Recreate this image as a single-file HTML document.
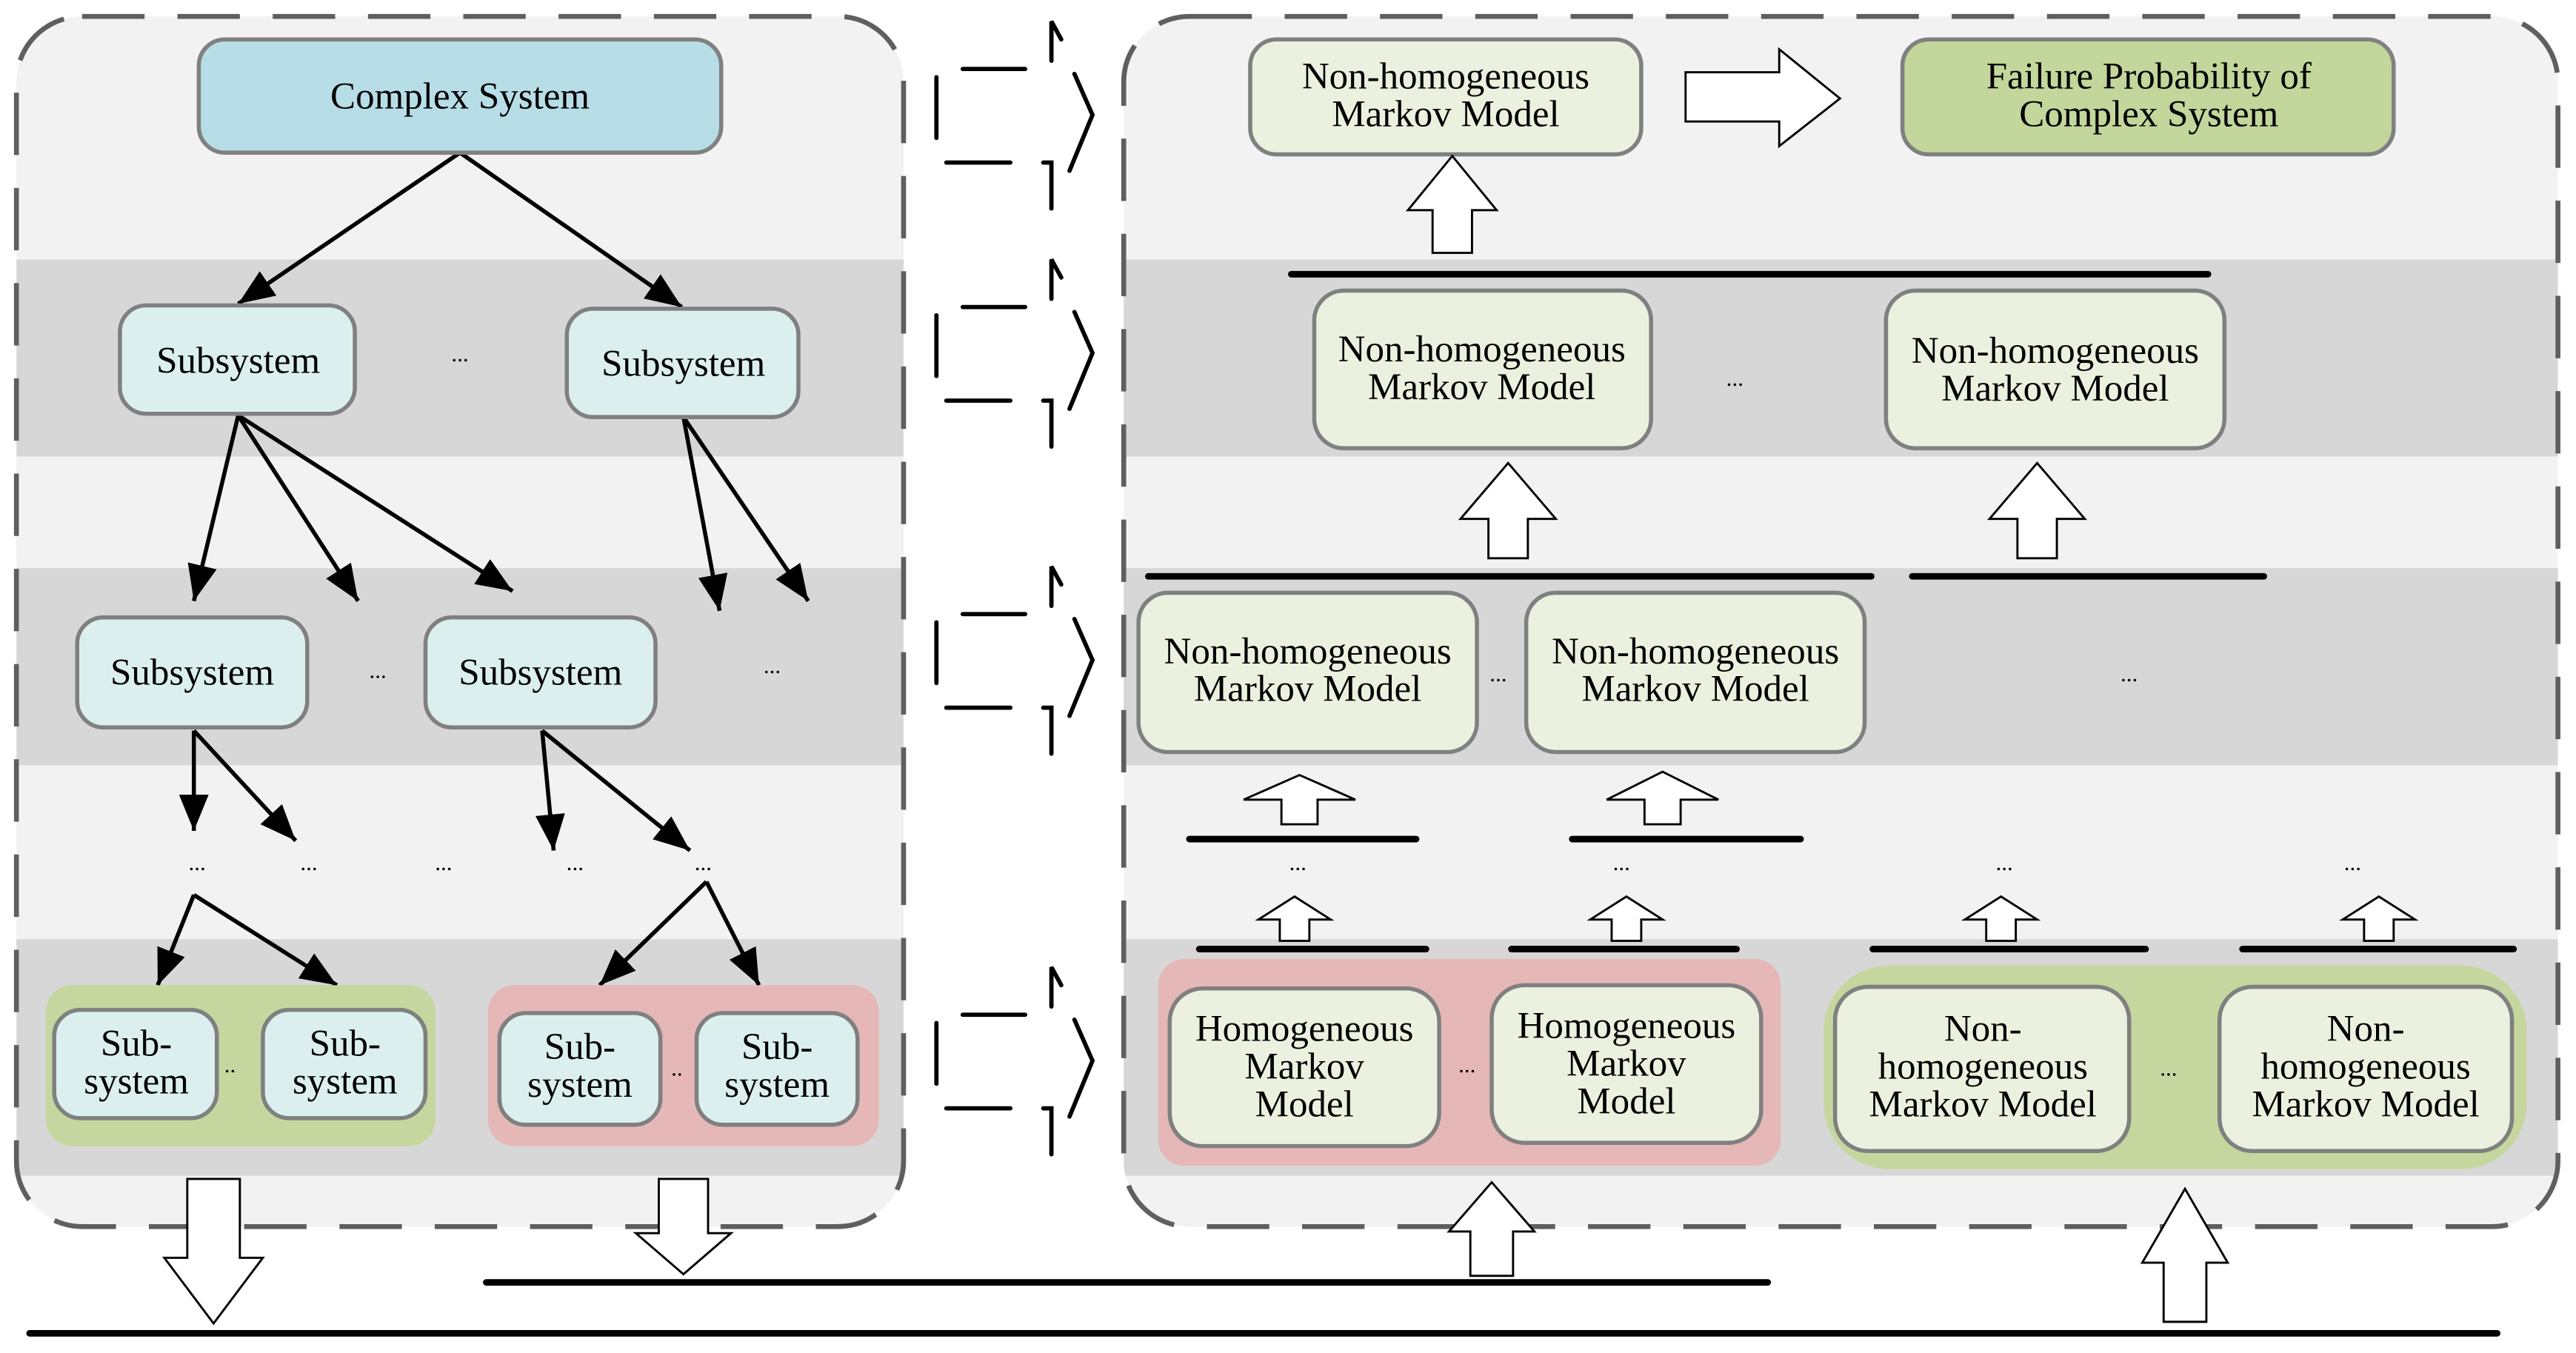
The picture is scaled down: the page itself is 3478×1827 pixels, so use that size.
<!DOCTYPE html>
<html><head><meta charset="utf-8"><style>
html,body{margin:0;padding:0;background:#fff;}
svg{display:block;}
text{font-family:"Liberation Serif",serif;font-size:23px;fill:#000;text-anchor:middle;}
.n{stroke:#808080;stroke-width:2.5;}
.ha{fill:#fff;stroke:#000;stroke-width:1.3;}
.bl{stroke:#000;stroke-width:4;stroke-linecap:round;}
.ar{stroke:#000;stroke-width:2.5;fill:none;marker-end:url(#ah);}
.da{fill:none;stroke:#000;stroke-width:2.6;stroke-linecap:round;stroke-linejoin:miter;}
</style></head><body>
<svg width="3478" height="1827" viewBox="0 0 1568 824" preserveAspectRatio="none" xmlns="http://www.w3.org/2000/svg">
<defs>
<marker id="ah" markerUnits="userSpaceOnUse" markerWidth="24" markerHeight="18" refX="22" refY="9" orient="auto">
<path d="M0,0 L22,9 L0,18 Z" fill="#000"/>
</marker>
<clipPath id="cl"><rect x="10" y="10" width="540" height="737" rx="40"/></clipPath>
<clipPath id="cr"><rect x="684" y="10" width="873" height="737" rx="40"/></clipPath>
<g id="dar">
<path d="M640,37 V13 L646,24"/>
<path d="M586,42 H624"/>
<path d="M570,47 V84"/>
<path d="M576,99 H615"/>
<path d="M635,99 H640 V127"/>
<path d="M654,45 L665,70 L651,104"/>
</g>
</defs>

<!-- Left panel -->
<rect x="10" y="10" width="540" height="737" rx="40" fill="#f2f2f2"/>
<g clip-path="url(#cl)" fill="#d7d7d7">
<rect x="10" y="158" width="540" height="120"/>
<rect x="10" y="346" width="540" height="120"/>
<rect x="10" y="572" width="540" height="144"/>
</g>
<rect x="10" y="10" width="540" height="737" rx="40" fill="none" stroke="#5f5f5f" stroke-width="3" stroke-dasharray="38,20"/>

<!-- Right panel -->
<rect x="684" y="10" width="873" height="737" rx="40" fill="#f2f2f2"/>
<g clip-path="url(#cr)" fill="#d7d7d7">
<rect x="684" y="158" width="873" height="120"/>
<rect x="684" y="346" width="873" height="120"/>
<rect x="684" y="572" width="873" height="144"/>
</g>
<rect x="684" y="10" width="873" height="737" rx="40" fill="none" stroke="#5f5f5f" stroke-width="3" stroke-dasharray="38,20"/>

<!-- dashed block arrows between panels -->
<g class="da">
<use href="#dar"/>
<use href="#dar" transform="translate(0,145)"/>
<use href="#dar" transform="translate(0,332)"/>
<use href="#dar" transform="translate(0,576)"/>
</g>

<!-- Left tree arrows -->
<line class="ar" x1="280" y1="93" x2="145" y2="185"/>
<line class="ar" x1="280" y1="93" x2="415" y2="187"/>
<line class="ar" x1="145" y1="253" x2="118" y2="366"/>
<line class="ar" x1="145" y1="253" x2="218" y2="366"/>
<line class="ar" x1="145" y1="253" x2="312" y2="360"/>
<line class="ar" x1="416" y1="254" x2="438" y2="372"/>
<line class="ar" x1="416" y1="254" x2="492" y2="366"/>
<line class="ar" x1="118" y1="445" x2="118" y2="506"/>
<line class="ar" x1="118" y1="445" x2="180" y2="512"/>
<line class="ar" x1="330" y1="445" x2="337" y2="518"/>
<line class="ar" x1="330" y1="445" x2="420" y2="518"/>
<line class="ar" x1="118" y1="545" x2="96" y2="600"/>
<line class="ar" x1="118" y1="545" x2="205" y2="600"/>
<line class="ar" x1="430" y1="537" x2="365" y2="600"/>
<line class="ar" x1="430" y1="537" x2="462" y2="600"/>

<!-- Left nodes -->
<rect class="n" x="121" y="24" width="318" height="69" rx="16" fill="#b7dde6"/>
<text x="280" y="66">Complex System</text>
<rect class="n" x="73" y="186" width="143" height="66" rx="16" fill="#dcefef"/>
<text x="145" y="227">Subsystem</text>
<rect class="n" x="345" y="188" width="141" height="66" rx="16" fill="#dcefef"/>
<text x="416" y="229">Subsystem</text>
<text x="280" y="220" style="font-size:14px">...</text>
<rect class="n" x="47" y="376" width="140" height="67" rx="16" fill="#dcefef"/>
<text x="117" y="417">Subsystem</text>
<rect class="n" x="259" y="376" width="140" height="67" rx="16" fill="#dcefef"/>
<text x="329" y="417">Subsystem</text>
<text x="230" y="413" style="font-size:14px">...</text>
<text x="470" y="410" style="font-size:14px">...</text>
<text x="120" y="530" style="font-size:14px">...</text>
<text x="188" y="530" style="font-size:14px">...</text>
<text x="270" y="530" style="font-size:14px">...</text>
<text x="350" y="530" style="font-size:14px">...</text>
<text x="428" y="530" style="font-size:14px">...</text>
<rect x="28" y="600" width="237" height="98" rx="16" fill="#c5d79e"/>
<rect x="297" y="600" width="238" height="98" rx="16" fill="#e5b8b7"/>
<rect class="n" x="33" y="615" width="99" height="66" rx="16" fill="#dcefef"/>
<text x="83" y="643">Sub-</text><text x="83" y="666">system</text>
<rect class="n" x="160" y="615" width="99" height="66" rx="16" fill="#dcefef"/>
<text x="210" y="643">Sub-</text><text x="210" y="666">system</text>
<text x="140" y="653" style="font-size:14px">..</text>
<rect class="n" x="304" y="617" width="98" height="68" rx="16" fill="#dcefef"/>
<text x="353" y="645">Sub-</text><text x="353" y="668">system</text>
<rect class="n" x="424" y="617" width="98" height="68" rx="16" fill="#dcefef"/>
<text x="473" y="645">Sub-</text><text x="473" y="668">system</text>
<text x="412" y="655" style="font-size:14px">..</text>

<!-- bottom lines and arrows -->
<line class="bl" x1="296" y1="781" x2="1076" y2="781"/>
<line class="bl" x1="18" y1="812" x2="1520" y2="812"/>
<polygon class="ha" points="114,718 146,718 146,766 160,766 130,806 100,766 114,766"/>
<polygon class="ha" points="401,718 431,718 431,751 445,751 416,776 387,751 401,751"/>
<polygon class="ha" points="895,777 921,777 921,750 934,750 908,720 882,750 895,750"/>
<polygon class="ha" points="1317,805 1343,805 1343,769 1356,769 1330,724 1304,769 1317,769"/>

<!-- Right top -->
<rect class="n" x="761" y="24" width="238" height="70" rx="16" fill="#ebf1de"/>
<text x="880" y="54">Non-homogeneous</text><text x="880" y="77">Markov Model</text>
<rect class="n" x="1158" y="24" width="299" height="70" rx="16" fill="#c3d69b"/>
<text x="1308" y="54">Failure Probability of</text><text x="1308" y="77">Complex System</text>
<polygon class="ha" points="1026,44 1083,44 1083,30 1120,60 1083,89 1083,74 1026,74"/>
<polygon class="ha" points="872,154 896,154 896,128 911,128 884,95 857,128 872,128"/>

<line class="bl" x1="786" y1="167" x2="1344" y2="167"/>
<rect class="n" x="800" y="177" width="205" height="96" rx="18" fill="#ebf1de"/>
<text x="902" y="220">Non-homogeneous</text><text x="902" y="243">Markov Model</text>
<rect class="n" x="1148" y="177" width="206" height="96" rx="18" fill="#ebf1de"/>
<text x="1251" y="221">Non-homogeneous</text><text x="1251" y="244">Markov Model</text>
<text x="1056" y="235" style="font-size:14px">...</text>
<polygon class="ha" points="906,340 930,340 930,316 947,316 918,282 889,316 906,316"/>
<polygon class="ha" points="1228,340 1252,340 1252,316 1269,316 1240,282 1211,316 1228,316"/>

<line class="bl" x1="699" y1="351" x2="1139" y2="351"/>
<line class="bl" x1="1164" y1="351" x2="1378" y2="351"/>
<rect class="n" x="693" y="361" width="206" height="97" rx="18" fill="#ebf1de"/>
<text x="796" y="404">Non-homogeneous</text><text x="796" y="427">Markov Model</text>
<rect class="n" x="929" y="361" width="206" height="97" rx="18" fill="#ebf1de"/>
<text x="1032" y="404">Non-homogeneous</text><text x="1032" y="427">Markov Model</text>
<text x="912" y="415" style="font-size:14px">...</text>
<text x="1296" y="415" style="font-size:14px">...</text>

<polygon class="ha" points="780,502 802,502 802,487 825,487 791,472 757,487 780,487"/>
<polygon class="ha" points="1001,502 1023,502 1023,487 1046,487 1012,470 978,487 1001,487"/>
<line class="bl" x1="724" y1="511" x2="862" y2="511"/>
<line class="bl" x1="957" y1="511" x2="1096" y2="511"/>
<text x="790" y="530" style="font-size:14px">...</text>
<text x="987" y="530" style="font-size:14px">...</text>
<text x="1220" y="530" style="font-size:14px">...</text>
<text x="1432" y="530" style="font-size:14px">...</text>

<polygon class="ha" points="779,573 797,573 797,560 810,560 788,546 766,560 779,560"/>
<polygon class="ha" points="981,573 999,573 999,560 1012,560 990,546 968,560 981,560"/>
<polygon class="ha" points="1209,573 1227,573 1227,560 1240,560 1218,546 1196,560 1209,560"/>
<polygon class="ha" points="1439,573 1457,573 1457,560 1470,560 1448,546 1426,560 1439,560"/>
<line class="bl" x1="730" y1="578" x2="868" y2="578"/>
<line class="bl" x1="920" y1="578" x2="1057" y2="578"/>
<line class="bl" x1="1140" y1="578" x2="1306" y2="578"/>
<line class="bl" x1="1365" y1="578" x2="1530" y2="578"/>

<rect x="705" y="584" width="379" height="126" rx="16" fill="#e5b8b7"/>
<rect x="1110" y="588" width="428" height="124" rx="40" fill="#c5d79e"/>
<rect class="n" x="712" y="602" width="164" height="96" rx="20" fill="#ebf1de"/>
<text x="794" y="634">Homogeneous</text><text x="794" y="657">Markov</text><text x="794" y="680">Model</text>
<rect class="n" x="908" y="600" width="164" height="96" rx="20" fill="#ebf1de"/>
<text x="990" y="632">Homogeneous</text><text x="990" y="655">Markov</text><text x="990" y="678">Model</text>
<text x="893" y="653" style="font-size:14px">...</text>
<rect class="n" x="1117" y="601" width="179" height="100" rx="20" fill="#ebf1de"/>
<text x="1207" y="634">Non-</text><text x="1207" y="657">homogeneous</text><text x="1207" y="680">Markov Model</text>
<rect class="n" x="1351" y="601" width="178" height="100" rx="20" fill="#ebf1de"/>
<text x="1440" y="634">Non-</text><text x="1440" y="657">homogeneous</text><text x="1440" y="680">Markov Model</text>
<text x="1320" y="655" style="font-size:14px">...</text>
</svg>
</body></html>
